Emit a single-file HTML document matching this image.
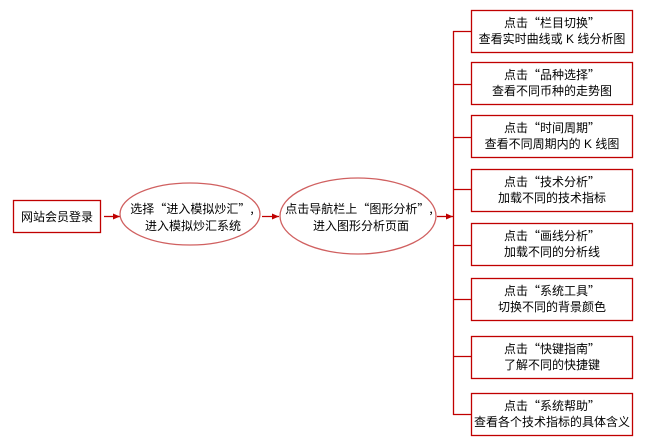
<!DOCTYPE html>
<html><head><meta charset="utf-8"><style>
html,body{margin:0;padding:0;background:#fff;}
svg{display:block;}
text{font-family:"Liberation Sans","Noto Sans CJK SC","WenQuanYi Zen Hei",sans-serif;font-size:12px;fill:#000;text-anchor:middle;}
.q{font-family:"Noto Sans CJK SC","WenQuanYi Zen Hei",sans-serif;}
</style></head><body>
<svg width="650" height="448" viewBox="0 0 650 448" xmlns="http://www.w3.org/2000/svg">
<defs><marker id="a" markerWidth="8" markerHeight="8" refX="7" refY="4" orient="auto" markerUnits="userSpaceOnUse"><path d="M0,1 L7,4 L0,7 z" fill="#c00000"/></marker></defs>
<g stroke="#c00000" stroke-width="1.3" fill="none">
<rect x="13.5" y="200.5" width="87" height="32" fill="#fff"/>
<line x1="104" y1="216.5" x2="120" y2="216.5" marker-end="url(#a)"/>
<ellipse cx="190" cy="214" rx="70" ry="31" stroke="#d06060"/>
<line x1="262" y1="216.5" x2="279" y2="216.5" marker-end="url(#a)"/>
<ellipse cx="358" cy="216" rx="78" ry="38" stroke="#d06060"/>
<line x1="437" y1="216.5" x2="453" y2="216.5" marker-end="url(#a)"/>
<line x1="453.5" y1="31" x2="453.5" y2="415"/>
<line x1="453" y1="31.5" x2="471" y2="31.5"/>
<line x1="453" y1="84.5" x2="471" y2="84.5"/>
<line x1="453" y1="137.5" x2="471" y2="137.5"/>
<line x1="453" y1="189.5" x2="471" y2="189.5"/>
<line x1="453" y1="245.5" x2="471" y2="245.5"/>
<line x1="453" y1="299.5" x2="471" y2="299.5"/>
<line x1="453" y1="356.5" x2="471" y2="356.5"/>
<line x1="453" y1="414.5" x2="471" y2="414.5"/>
<rect x="471.5" y="10.5" width="161" height="42"/>
<rect x="471.5" y="62.5" width="161" height="42"/>
<rect x="471.5" y="115.5" width="161" height="42"/>
<rect x="471.5" y="169.5" width="161" height="42"/>
<rect x="471.5" y="223.5" width="161" height="42"/>
<rect x="471.5" y="278.5" width="161" height="42"/>
<rect x="471.5" y="336.5" width="161" height="42"/>
<rect x="471.5" y="393.5" width="161" height="42"/>
</g>
<text x="57" y="221">网站会员登录</text>
<text x="192" y="213">选择<tspan class="q">“</tspan>进入模拟炒汇<tspan class="q">”,</tspan></text>
<text x="193" y="230">进入模拟炒汇系统</text>
<text x="359" y="213">点击导航栏上<tspan class="q">“</tspan>图形分析<tspan class="q">”,</tspan></text>
<text x="361" y="230">进入图形分析页面</text>
<g>
<text x="552" y="27">点击<tspan class="q">“</tspan>栏目切换<tspan class="q">”</tspan></text><text x="552" y="43">查看实时曲线或 K 线分析图</text>
<text x="552" y="79">点击<tspan class="q">“</tspan>品种选择<tspan class="q">”</tspan></text><text x="552" y="95">查看不同币种的走势图</text>
<text x="552" y="132">点击<tspan class="q">“</tspan>时间周期<tspan class="q">”</tspan></text><text x="552" y="148">查看不同周期内的 K 线图</text>
<text x="552" y="186">点击<tspan class="q">“</tspan>技术分析<tspan class="q">”</tspan></text><text x="552" y="202">加载不同的技术指标</text>
<text x="552" y="240">点击<tspan class="q">“</tspan>画线分析<tspan class="q">”</tspan></text><text x="552" y="256">加载不同的分析线</text>
<text x="552" y="295">点击<tspan class="q">“</tspan>系统工具<tspan class="q">”</tspan></text><text x="552" y="311">切换不同的背景颜色</text>
<text x="552" y="353">点击<tspan class="q">“</tspan>快键指南<tspan class="q">”</tspan></text><text x="552" y="369">了解不同的快捷键</text>
<text x="552" y="410">点击<tspan class="q">“</tspan>系统帮助<tspan class="q">”</tspan></text><text x="552" y="426">查看各个技术指标的具体含义</text>
</g>
</svg>
</body></html>
